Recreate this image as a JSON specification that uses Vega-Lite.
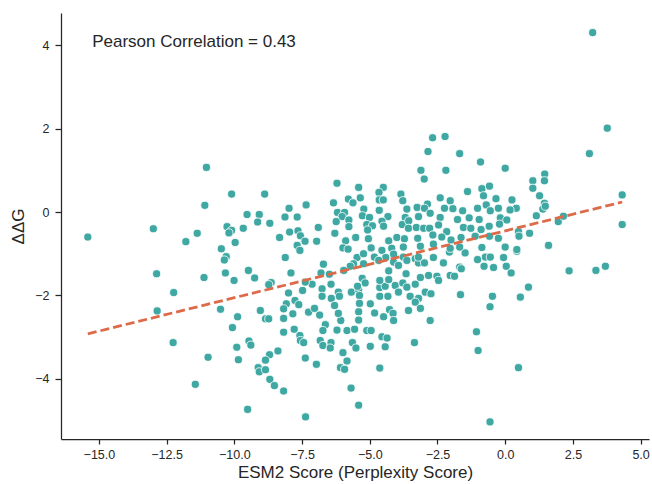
{
  "$schema": "https://vega.github.io/schema/vega-lite/v6.json",
  "autosize": {"type": "none"},
  "padding": {"left": 61, "top": 13, "right": 3, "bottom": 45},
  "width": 588,
  "height": 426,
  "background": "white",
  "config": {
    "view": {"stroke": null},
    "font": "Liberation Sans",
    "axis": {
      "grid": false,
      "domainColor": "#262626",
      "domainWidth": 1.25,
      "tickColor": "#262626",
      "tickWidth": 1.25,
      "tickSize": 5,
      "labelColor": "#262626",
      "labelFont": "Liberation Sans",
      "labelFontSize": 12.5,
      "titleColor": "#262626",
      "titleFont": "Liberation Sans",
      "titleFontSize": 17,
      "titleFontWeight": "normal"
    }
  },
  "datasets": {
    "pts": [
      {"x":-11.03,"y":1.07},{"x":-10.10,"y":0.43},{"x":-11.09,"y":0.16},{"x":-9.53,"y":-0.06},{"x":-9.08,"y":-0.06},{"x":-9.14,"y":-0.24},{"x":-12.99,"y":-0.40},{"x":-15.41,"y":-0.60},{"x":-11.37,"y":-0.51},{"x":-11.79,"y":-0.71},{"x":-10.27,"y":-0.35},{"x":-10.10,"y":-0.44},{"x":-10.20,"y":-0.50},{"x":-9.67,"y":-0.39},{"x":-9.97,"y":-0.73},{"x":-10.48,"y":-0.88},{"x":-10.30,"y":-1.07},{"x":-10.37,"y":-1.15},{"x":-12.87,"y":-1.48},{"x":-11.12,"y":-1.57},{"x":-10.33,"y":-1.46},{"x":-10.01,"y":-1.64},{"x":-9.48,"y":-1.40},{"x":-9.25,"y":-1.58},
      {"x":-12.24,"y":-1.93},{"x":-12.85,"y":-2.37},{"x":-10.51,"y":-2.33},{"x":-9.88,"y":-2.51},{"x":-10.07,"y":-2.77},{"x":-9.04,"y":-2.36},{"x":-12.26,"y":-3.13},{"x":-9.46,"y":-3.09},{"x":-9.39,"y":-3.19},{"x":-9.91,"y":-3.24},{"x":-10.97,"y":-3.48},{"x":-9.85,"y":-3.54},{"x":-9.12,"y":-3.73},{"x":-9.08,"y":-3.83},{"x":-11.44,"y":-4.13},{"x":-9.51,"y":-4.73},
      {"x":-6.21,"y":0.69},{"x":-8.88,"y":0.43},{"x":-5.41,"y":0.59},{"x":-4.50,"y":0.59},{"x":-4.66,"y":0.47},{"x":-3.85,"y":0.43},{"x":-6.34,"y":0.22},{"x":-5.79,"y":0.31},{"x":-5.62,"y":0.22},{"x":-5.35,"y":0.34},{"x":-4.65,"y":0.29},{"x":-4.50,"y":0.29},{"x":-3.78,"y":0.27},{"x":-7.35,"y":0.17},{"x":-7.98,"y":0.09},{"x":-8.13,"y":-0.12},{"x":-7.68,"y":-0.12},{"x":-8.69,"y":-0.27},{"x":-6.19,"y":-0.01},{"x":-5.93,"y":-0.01},{"x":-6.02,"y":-0.11},{"x":-6.24,"y":-0.23},{"x":-5.77,"y":-0.19},{"x":-5.22,"y":0.07},{"x":-5.27,"y":-0.09},{"x":-5.01,"y":-0.13},{"x":-4.65,"y":0.04},{"x":-4.33,"y":-0.11},{"x":-4.55,"y":-0.22},{"x":-3.63,"y":0.07},{"x":-3.69,"y":-0.13},{"x":-3.80,"y":-0.30},{"x":-3.56,"y":-0.21},{"x":-5.77,"y":-0.35},{"x":-5.11,"y":-0.30},{"x":-4.90,"y":-0.33},{"x":-4.49,"y":-0.34},{"x":-6.90,"y":-0.37},{"x":-6.29,"y":-0.51},{"x":-5.08,"y":-0.43},{"x":-7.96,"y":-0.48},{"x":-7.65,"y":-0.45},{"x":-7.56,"y":-0.57},{"x":-8.33,"y":-0.61},{"x":-7.39,"y":-0.70},{"x":-6.96,"y":-0.70},{"x":-7.68,"y":-0.80},{"x":-7.58,"y":-0.92},{"x":-5.89,"y":-0.69},{"x":-5.52,"y":-0.61},{"x":-5.05,"y":-0.64},{"x":-4.30,"y":-0.69},{"x":-4.00,"y":-0.61},{"x":-3.72,"y":-0.64},{"x":-5.99,"y":-0.86},{"x":-5.80,"y":-0.89},{"x":-4.95,"y":-0.86},{"x":-4.55,"y":-0.92},{"x":-4.19,"y":-0.87},{"x":-3.76,"y":-0.84},{"x":-8.12,"y":-1.09},{"x":-5.47,"y":-1.09},{"x":-5.23,"y":-1.00},{"x":-4.83,"y":-1.08},{"x":-4.41,"y":-1.09},{"x":-4.12,"y":-1.01},{"x":-3.76,"y":-1.08},
      {"x":-6.71,"y":-1.25},{"x":-7.91,"y":-1.46},{"x":-8.64,"y":-1.69},{"x":-8.73,"y":-1.74},{"x":-7.13,"y":-1.73},{"x":-7.38,"y":-1.68},{"x":-6.80,"y":-1.46},{"x":-6.49,"y":-1.49},{"x":-6.43,"y":-1.73},{"x":-6.76,"y":-1.84},{"x":-7.48,"y":-1.88},{"x":-8.00,"y":-1.94},{"x":-7.76,"y":-2.12},{"x":-8.08,"y":-2.20},{"x":-7.62,"y":-2.22},{"x":-8.18,"y":-2.32},{"x":-8.85,"y":-2.56},{"x":-8.73,"y":-2.56},{"x":-8.18,"y":-2.55},{"x":-7.84,"y":-2.44},{"x":-7.26,"y":-2.40},{"x":-7.04,"y":-2.31},{"x":-6.85,"y":-2.47},{"x":-8.18,"y":-2.88},{"x":-7.79,"y":-2.81},{"x":-7.58,"y":-2.96},{"x":-7.56,"y":-3.08},{"x":-7.44,"y":-3.13},{"x":-6.64,"y":-2.70},{"x":-6.73,"y":-2.84},{"x":-6.83,"y":-3.08},{"x":-6.73,"y":-3.20},{"x":-6.43,"y":-3.13},{"x":-6.46,"y":-3.26},{"x":-6.21,"y":-2.83},{"x":-6.07,"y":-2.60},{"x":-6.16,"y":-2.43},{"x":-6.42,"y":-2.07},{"x":-6.30,"y":-2.24},{"x":-6.16,"y":-1.92},{"x":-6.12,"y":-2.02},{"x":-6.76,"y":-2.02},{"x":-5.68,"y":-1.92},{"x":-5.41,"y":-1.86},{"x":-5.28,"y":-1.59},{"x":-5.17,"y":-1.70},{"x":-5.45,"y":-1.78},{"x":-5.38,"y":-2.00},{"x":-5.38,"y":-2.19},{"x":-5.41,"y":-2.39},{"x":-5.41,"y":-2.59},{"x":-5.84,"y":-2.84},{"x":-5.56,"y":-2.81},{"x":-5.11,"y":-2.84},{"x":-5.64,"y":-3.13},{"x":-5.51,"y":-3.26},{"x":-5.99,"y":-3.37},{"x":-5.84,"y":-3.57},{"x":-6.08,"y":-3.73},{"x":-5.93,"y":-3.77},{"x":-7.38,"y":-3.50},{"x":-6.97,"y":-3.65},{"x":-8.70,"y":-3.42},{"x":-8.39,"y":-3.33},{"x":-8.85,"y":-3.55},{"x":-8.85,"y":-3.78},{"x":-8.69,"y":-4.01},{"x":-8.52,"y":-4.16},{"x":-8.18,"y":-4.29},{"x":-5.69,"y":-4.22},{"x":-5.41,"y":-4.63},{"x":-7.37,"y":-4.91},{"x":-4.98,"y":-2.20},{"x":-4.82,"y":-2.42},{"x":-4.95,"y":-2.84},{"x":-4.98,"y":-3.22},{"x":-4.63,"y":-3.74},{"x":-4.55,"y":-2.99},{"x":-4.36,"y":-3.02},{"x":-4.43,"y":-3.23},{"x":-4.49,"y":-2.51},{"x":-4.27,"y":-2.34},{"x":-4.14,"y":-2.43},{"x":-4.12,"y":-2.60},{"x":-4.63,"y":-2.02},{"x":-4.33,"y":-2.02},{"x":-4.63,"y":-1.81},{"x":-4.43,"y":-1.78},{"x":-4.63,"y":-1.64},{"x":-4.30,"y":-1.41},{"x":-4.30,"y":-1.62},{"x":-4.06,"y":-1.76},{"x":-3.94,"y":-1.92},{"x":-3.78,"y":-1.70},{"x":-3.66,"y":-1.48},{"x":-3.57,"y":-2.36},{"x":-4.67,"y":-1.16},{"x":-5.23,"y":-1.24},{"x":-5.60,"y":-1.24},{"x":-5.72,"y":-1.30},{"x":-5.96,"y":-1.40},{"x":-4.12,"y":-1.20},{"x":-3.94,"y":-1.28},{"x":-3.63,"y":-1.16},{"x":-3.63,"y":-1.80},{"x":-3.51,"y":-2.02},
      {"x":-3.32,"y":-1.12},{"x":-3.20,"y":-1.22},{"x":-2.98,"y":-1.22},{"x":-2.28,"y":-1.22},{"x":-2.06,"y":-0.96},{"x":-1.68,"y":-1.32},{"x":-1.62,"y":-1.36},{"x":-1.48,"y":-0.98},{"x":-1.02,"y":-1.14},{"x":-0.78,"y":-1.30},{"x":-0.43,"y":-1.33},{"x":0.04,"y":-1.30},{"x":0.22,"y":-1.46},{"x":0.43,"y":-0.94},{"x":-3.13,"y":-1.57},{"x":-3.32,"y":-1.73},{"x":-2.83,"y":-1.52},{"x":-2.52,"y":-1.54},{"x":-2.46,"y":-1.64},{"x":-2.03,"y":-1.52},{"x":-1.87,"y":-1.54},{"x":-3.20,"y":-2.07},{"x":-2.95,"y":-1.92},{"x":-2.74,"y":-1.96},{"x":-3.32,"y":-2.16},{"x":-3.13,"y":-2.31},{"x":-2.77,"y":-2.60},{"x":-1.65,"y":-1.98},{"x":-0.47,"y":-2.02},{"x":-0.56,"y":-2.27},{"x":0.56,"y":-2.04},{"x":0.86,"y":-1.80},{"x":-3.35,"y":-3.13},{"x":-1.06,"y":-2.87},{"x":-1.00,"y":-3.32},{"x":0.49,"y":-3.73},{"x":-0.56,"y":-5.03},
      {"x":-2.68,"y":1.78},{"x":-2.22,"y":1.81},{"x":-2.85,"y":1.45},{"x":-1.68,"y":1.40},{"x":-0.91,"y":1.20},{"x":0.00,"y":1.05},{"x":-3.11,"y":1.00},{"x":-2.19,"y":1.00},{"x":-2.99,"y":0.79},{"x":1.46,"y":0.91},{"x":1.45,"y":0.75},{"x":1.02,"y":0.75},{"x":1.02,"y":0.57},{"x":-1.39,"y":0.49},{"x":-0.86,"y":0.56},{"x":-0.58,"y":0.62},{"x":1.27,"y":0.39},{"x":-2.40,"y":0.34},{"x":-0.80,"y":0.39},{"x":-0.34,"y":0.32},{"x":0.25,"y":0.29},{"x":-2.03,"y":0.27},{"x":-0.70,"y":0.17},{"x":-0.25,"y":0.09},{"x":0.41,"y":0.09},{"x":0.18,"y":0.05},{"x":1.45,"y":0.21},{"x":1.39,"y":0.07},{"x":-2.87,"y":0.19},{"x":-3.25,"y":0.11},{"x":-2.98,"y":0.09},{"x":-2.24,"y":0.09},{"x":-1.93,"y":0.08},{"x":-1.57,"y":0.03},{"x":-1.02,"y":0.09},{"x":-0.55,"y":0.03},{"x":-3.20,"y":-0.11},{"x":-2.77,"y":-0.03},{"x":-2.40,"y":-0.13},{"x":-1.76,"y":-0.18},{"x":-1.33,"y":-0.14},{"x":-0.96,"y":-0.18},{"x":-0.18,"y":-0.14},{"x":0.06,"y":-0.19},{"x":1.15,"y":-0.09},{"x":1.96,"y":-0.23},{"x":-3.57,"y":-0.39},{"x":-3.28,"y":-0.37},{"x":-3.01,"y":-0.39},{"x":-2.79,"y":-0.39},{"x":-2.46,"y":-0.31},{"x":-2.16,"y":-0.47},{"x":-1.54,"y":-0.37},{"x":-1.27,"y":-0.39},{"x":-0.89,"y":-0.42},{"x":-0.59,"y":-0.34},{"x":-0.21,"y":-0.29},{"x":0.49,"y":-0.47},{"x":0.90,"y":-0.51},{"x":-3.23,"y":-0.63},{"x":-2.67,"y":-0.55},{"x":-2.34,"y":-0.60},{"x":-2.00,"y":-0.67},{"x":-1.63,"y":-0.61},{"x":-1.11,"y":-0.58},{"x":-0.58,"y":-0.58},{"x":-0.25,"y":-0.63},{"x":0.51,"y":-0.58},{"x":-3.13,"y":-0.82},{"x":-2.65,"y":-0.77},{"x":-2.03,"y":-0.87},{"x":-1.68,"y":-0.84},{"x":-0.86,"y":-0.85},{"x":0.00,"y":-0.84},{"x":0.43,"y":-0.90},{"x":1.60,"y":-0.80},{"x":-3.20,"y":-1.08},{"x":-2.65,"y":-1.09},{"x":-0.73,"y":-1.08},{"x":-0.55,"y":-1.08},{"x":-0.06,"y":-1.09},
      {"x":3.23,"y":4.30},{"x":3.77,"y":2.01},{"x":3.11,"y":1.40},{"x":4.32,"y":0.41},{"x":1.48,"y":0.14},{"x":2.15,"y":-0.10},{"x":4.32,"y":-0.30},{"x":2.36,"y":-1.41},{"x":3.35,"y":-1.40},{"x":3.70,"y":-1.30}
    ],
    "fit": [{"x": -15.41, "y": -2.92}, {"x": 4.32, "y": 0.24}],
    "note": [{"x": -15.25, "y": 3.95, "label": "Pearson Correlation = 0.43"}]
  },
  "layer": [
    {
      "data": {"name": "pts"},
      "mark": {"type": "point", "filled": true, "size": 66, "color": "#3fa8a3", "stroke": "white", "strokeWidth": 0.8, "opacity": 1},
      "encoding": {
        "x": {
          "field": "x", "type": "quantitative",
          "scale": {"domain": [-16.40, 5.31], "nice": false, "zero": false},
          "axis": {"title": "ESM2 Score (Perplexity Score)", "values": [-15, -12.5, -10, -7.5, -5, -2.5, 0, 2.5, 5], "format": ".1f", "labelPadding": 4, "titlePadding": 4, "labelFlush": false}
        },
        "y": {
          "field": "y", "type": "quantitative",
          "scale": {"domain": [-5.44, 4.77], "nice": false, "zero": false},
          "axis": {"title": "ΔΔG", "values": [-4, -2, 0, 2, 4], "format": "d", "tickSize": 6, "labelPadding": 6, "titlePadding": 7, "labelFlush": false}
        }
      }
    },
    {
      "data": {"name": "fit"},
      "mark": {"type": "line", "color": "#dd6a48", "strokeWidth": 2.8, "strokeDash": [9, 4]},
      "encoding": {
        "x": {"field": "x", "type": "quantitative"},
        "y": {"field": "y", "type": "quantitative"}
      }
    },
    {
      "data": {"name": "note"},
      "mark": {"type": "text", "align": "left", "baseline": "alphabetic", "fontSize": 17, "color": "#262626", "font": "Liberation Sans"},
      "encoding": {
        "x": {"field": "x", "type": "quantitative"},
        "y": {"field": "y", "type": "quantitative"},
        "text": {"field": "label"}
      }
    }
  ]
}
